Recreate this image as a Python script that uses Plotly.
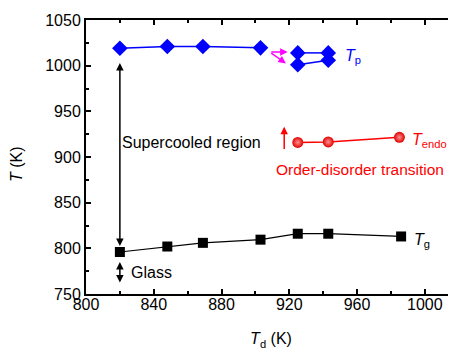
import plotly.graph_objects as go

# Data
tp_x = [820, 848, 869, 903, None, 925, 943, None, 925, 943]
tp_y = [1019, 1021, 1021, 1019.5, None, 1014, 1014, None, 1001, 1006]
tendo_x = [925, 943, 985]
tendo_y = [916, 916.5, 921.5]
tg_x = [820, 848, 869, 903, 925, 943, 986]
tg_y = [796, 802, 806, 809.5, 816, 816, 813]

FONT = "Liberation Sans, Arial, sans-serif"

fig = go.Figure()
fig.add_trace(go.Scatter(x=tp_x, y=tp_y, mode="lines+markers",
                         line=dict(color="#0000ff", width=1.5),
                         marker=dict(symbol="diamond", size=12, color="#0000ff"),
                         connectgaps=False, showlegend=False))
fig.add_trace(go.Scatter(x=tendo_x, y=tendo_y, mode="lines+markers",
                         line=dict(color="#ff0000", width=1.5),
                         marker=dict(symbol="circle", size=11, color="#e00000",
                                     gradient=dict(type="radial", color="#ff9090")),
                         showlegend=False))
fig.add_trace(go.Scatter(x=tg_x, y=tg_y, mode="lines+markers",
                         line=dict(color="#000000", width=1.2),
                         marker=dict(symbol="square", size=10, color="#000000"),
                         showlegend=False))

ann = []
def arrow(x, y, ax, ay, color, both=False, w=1.5):
    ann.append(dict(x=x, y=y, ax=ax, ay=ay, xref="x", yref="y", axref="x", ayref="y",
                    text="", showarrow=True, arrowhead=2, arrowsize=1, arrowwidth=w,
                    arrowcolor=color, arrowside="end+start" if both else "end",
                    standoff=0, startstandoff=0))

arrow(820, 1003, 820, 801, "black", both=True)
arrow(820, 785, 820, 761, "black", both=True)
arrow(917, 933, 917, 907, "red")
arrow(919, 1015, 908.5, 1015, "#ff00ff")
arrow(918, 1002.5, 908.5, 1015, "#ff00ff")

def label(x, y, text, color, size=16):
    ann.append(dict(x=x, y=y, xref="x", yref="y", text=text, showarrow=False,
                    xanchor="left", yanchor="middle",
                    font=dict(family=FONT, size=size, color=color)))

label(820.3, 916.4, "Supercooled region", "black")
label(825.5, 773.4, "Glass", "black")
label(911.0, 886.4, "Order-disorder transition", "#ff0000", size=15.5)
label(951.8, 1010, "<i>T</i><sub>p</sub>", "#0000ff")
label(991.3, 918.5, "<i>T</i><sub>endo</sub>", "#ff0000")
label(992.3, 808.5, "<i>T</i><sub>g</sub>", "black")

# y-axis title as annotation for exact placement
ann.append(dict(x=-0.188, y=0.476, xref="paper", yref="paper", text="<i>T</i> (K)",
                textangle=-90, showarrow=False, xanchor="center", yanchor="middle",
                font=dict(family=FONT, size=16, color="black")))

# page body has an 8px default margin; size the figure to fit the window
fig.update_layout(
    width=448, height=345,
    margin=dict(l=78, r=0, t=12, b=59),
    plot_bgcolor="white", paper_bgcolor="white",
    font=dict(family=FONT, size=16, color="black"),
    annotations=ann,
    xaxis=dict(range=[800, 1018.4], tickmode="array", automargin=False,
               tickvals=[800, 840, 880, 920, 960, 1000],
               ticks="inside", ticklen=5, tickwidth=1.5, tickcolor="black",
               ticklabelstandoff=-5,
               minor=dict(tickvals=[820, 860, 900, 940, 980], ticks="inside",
                          ticklen=3, tickwidth=1.5, tickcolor="black"),
               showline=True, linecolor="black", linewidth=2, mirror="ticks",
               showgrid=False, zeroline=False,
               tickfont=dict(family=FONT, size=16, color="black"),
               title=dict(text="<i>T</i><sub>d</sub> (K)", standoff=21,
                          font=dict(family=FONT, size=16, color="black"))),
    yaxis=dict(range=[750, 1050], tickmode="array", automargin=False,
               tickvals=[750, 800, 850, 900, 950, 1000, 1050],
               ticks="inside", ticklen=5, tickwidth=1.5, tickcolor="black",
               minor=dict(tickvals=[775, 825, 875, 925, 975, 1025], ticks="inside",
                          ticklen=3, tickwidth=1.5, tickcolor="black"),
               showline=True, linecolor="black", linewidth=2, mirror=False,
               showgrid=False, zeroline=False,
               tickfont=dict(family=FONT, size=16, color="black")),
)

fig.write_html("out.html")
